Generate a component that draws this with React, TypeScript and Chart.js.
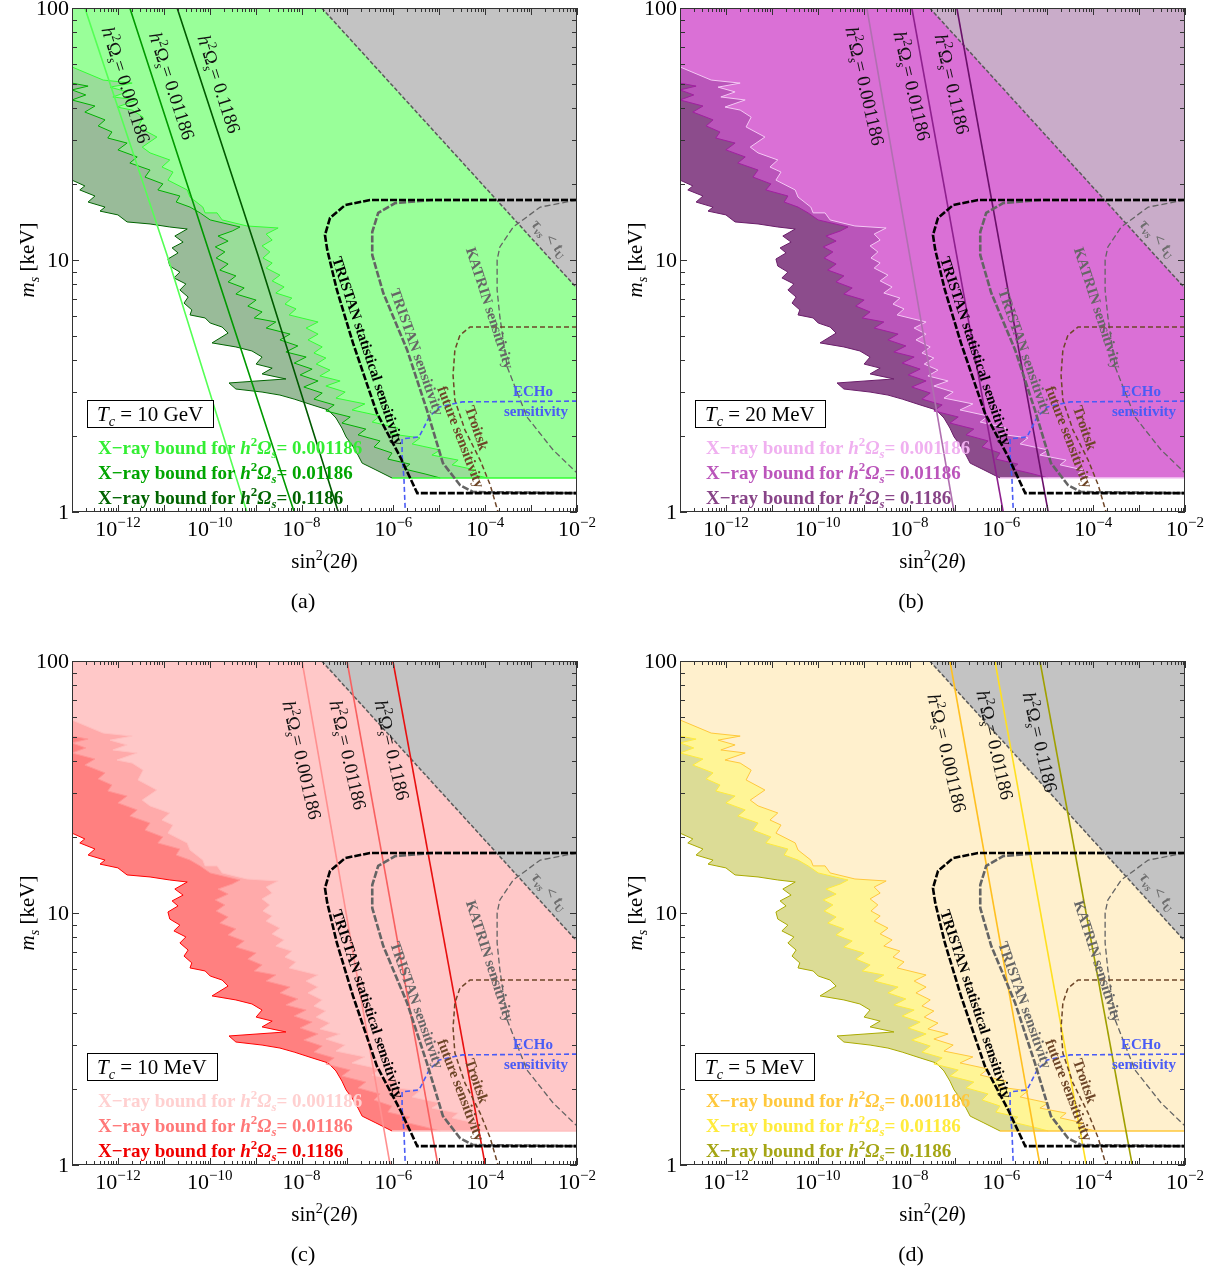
import React, { useEffect, useRef } from 'react';
import { Chart, registerables } from 'chart.js';

Chart.register(...registerables);

// Every curve point is [log10 sin²(2θ), log10 (m_s / keV)].
type LP = [number, number];

const SIN2_MIN = 1e-13;
const SIN2_MAX = 1e-2;
const MS_MIN = 1;
const MS_MAX = 100;
const X_LABEL_EXPONENTS = [-12, -10, -8, -6, -4, -2];
const Y_LABEL_VALUES = [1, 10, 100];
const OMEGA_LABELS = ['0.001186', '0.01186', '0.1186'];
const TC_LABELS = ['10 GeV', '20 MeV', '10 MeV', '5 MeV'];
const PANEL_KEYS = ['a', 'b', 'c', 'd'];

// X-ray bound boundaries (same in all four panels)
const XRAY_LOW: LP[] = [
  [-13.0, 1.766], [-12.32, 1.714], [-11.69, 1.702], [-12.17, 1.686], [-11.8, 1.667], [-12.11, 1.647],
  [-11.58, 1.635], [-12.02, 1.607], [-11.69, 1.595], [-11.45, 1.567], [-11.56, 1.528], [-11.15, 1.488],
  [-11.47, 1.448], [-11.3, 1.425], [-10.87, 1.397], [-11.04, 1.369], [-10.8, 1.349], [-10.91, 1.317],
  [-10.49, 1.278], [-10.43, 1.25], [-10.15, 1.21], [-10.1, 1.187], [-9.84, 1.187], [-9.73, 1.159],
  [-9.19, 1.135], [-8.51, 1.127], [-8.77, 1.103], [-8.64, 1.079], [-8.86, 1.056], [-8.69, 1.032],
  [-8.84, 1.008], [-8.64, 0.988], [-8.77, 0.968], [-8.47, 0.94], [-8.64, 0.917], [-8.38, 0.893],
  [-8.56, 0.869], [-8.21, 0.849], [-8.36, 0.825], [-8.12, 0.806], [-8.27, 0.782], [-7.64, 0.754],
  [-7.9, 0.73], [-7.64, 0.706], [-7.86, 0.683], [-7.55, 0.655], [-7.73, 0.631], [-7.47, 0.611],
  [-7.68, 0.587], [-7.38, 0.563], [-7.6, 0.54], [-7.16, 0.52], [-7.47, 0.5], [-7.05, 0.476],
  [-7.25, 0.452], [-6.62, 0.429], [-6.9, 0.405], [-6.29, 0.381], [-6.46, 0.357], [-5.9, 0.333],
  [-6.07, 0.31], [-5.42, 0.294], [-5.59, 0.27], [-4.98, 0.246], [-5.16, 0.226], [-4.59, 0.206],
  [-4.72, 0.187], [-4.22, 0.167], [-4.33, 0.151], [-3.94, 0.135],
];
const XRAY_MID: LP[] = [
  [-13.0, 1.702], [-12.65, 1.69], [-13.0, 1.675], [-12.7, 1.655], [-13.0, 1.635], [-12.5, 1.611],
  [-12.72, 1.587], [-12.28, 1.556], [-12.43, 1.532], [-12.13, 1.508], [-12.22, 1.484], [-11.8, 1.464],
  [-12.0, 1.437], [-11.58, 1.409], [-11.74, 1.385], [-11.3, 1.357], [-11.41, 1.329], [-11.02, 1.302],
  [-11.13, 1.278], [-10.65, 1.254], [-10.73, 1.23], [-10.43, 1.21], [-10.21, 1.187], [-9.99, 1.159],
  [-9.34, 1.131], [-9.51, 1.115], [-9.82, 1.095], [-9.6, 1.075], [-9.88, 1.052], [-9.67, 1.032],
  [-9.86, 1.008], [-9.6, 0.984], [-9.78, 0.96], [-9.43, 0.937], [-9.6, 0.913], [-9.25, 0.889],
  [-9.43, 0.865], [-8.99, 0.841], [-9.17, 0.817], [-8.86, 0.794], [-9.03, 0.77], [-8.56, 0.754],
  [-8.77, 0.73], [-8.25, 0.706], [-8.47, 0.683], [-8.08, 0.659], [-8.34, 0.635], [-7.9, 0.615],
  [-8.16, 0.591], [-7.77, 0.567], [-8.03, 0.544], [-7.64, 0.52], [-7.95, 0.496], [-7.55, 0.472],
  [-7.73, 0.448], [-7.29, 0.425], [-7.47, 0.401], [-6.94, 0.377], [-7.12, 0.353], [-6.6, 0.329],
  [-6.77, 0.306], [-6.29, 0.282], [-6.42, 0.258], [-6.03, 0.234], [-6.12, 0.21], [-5.64, 0.19],
  [-5.77, 0.171], [-5.31, 0.151], [-4.98, 0.135],
];
const XRAY_HIGH: LP[] = [
  [-13.0, 1.317], [-12.72, 1.294], [-12.83, 1.278], [-12.5, 1.254], [-12.65, 1.23], [-12.28, 1.21],
  [-12.39, 1.194], [-12.0, 1.179], [-11.8, 1.151], [-11.3, 1.143], [-10.87, 1.131], [-10.49, 1.123],
  [-10.76, 1.095], [-10.58, 1.071], [-10.82, 1.048], [-10.69, 1.028], [-10.91, 1.004], [-10.87, 0.976],
  [-10.65, 0.952], [-10.78, 0.929], [-10.52, 0.905], [-10.65, 0.881], [-10.47, 0.853], [-10.56, 0.829],
  [-10.39, 0.802], [-10.43, 0.782], [-10.1, 0.77], [-9.99, 0.75], [-9.73, 0.734], [-9.6, 0.71],
  [-9.95, 0.671], [-9.43, 0.655], [-9.08, 0.639], [-8.86, 0.615], [-8.99, 0.587], [-8.64, 0.571],
  [-8.86, 0.548], [-8.34, 0.528], [-9.58, 0.512], [-9.43, 0.488], [-8.86, 0.476], [-8.47, 0.464],
  [-8.16, 0.448], [-7.77, 0.425], [-7.42, 0.405], [-7.25, 0.373], [-7.12, 0.333], [-7.03, 0.298],
  [-6.9, 0.266], [-6.77, 0.226], [-6.68, 0.194], [-6.38, 0.167], [-6.03, 0.135],
];
const XRAY_FLOOR_MS = 1.365;

// lifetime shorter than age of the universe (upper-right corner)
const LIFETIME_EDGE: LP[] = [[-7.56, 2.0], [-2.0, 0.888]];

// experimental sensitivities
const TRISTAN_STAT: LP[] = [
  [-2, 1.238], [-6.51, 1.238], [-7.05, 1.218], [-7.38, 1.167], [-7.49, 1.099], [-7.44, 1.04],
  [-7.23, 0.881], [-6.88, 0.671], [-6.36, 0.393], [-5.85, 0.218], [-5.48, 0.075], [-2, 0.075],
];
const TRISTAN_SENS: LP[] = [
  [-2, 1.238], [-5.14, 1.238], [-5.96, 1.226], [-6.33, 1.187], [-6.46, 1.111], [-6.46, 1.02],
  [-6.22, 0.869], [-5.7, 0.643], [-5.27, 0.405], [-4.92, 0.194], [-4.55, 0.107], [-4.26, 0.079], [-2, 0.075],
];
const KATRIN_SENS: LP[] = [
  [-2, 1.238], [-2.8, 1.21], [-3.39, 1.131], [-3.68, 1.052], [-3.74, 1.0], [-3.74, 0.881],
  [-3.68, 0.774], [-3.52, 0.575], [-3.09, 0.377], [-2.52, 0.246], [-2, 0.155],
];
const TROITSK_SENS: LP[] = [
  [-2, 0.734], [-4.33, 0.734], [-4.55, 0.702], [-4.66, 0.643], [-4.7, 0.544], [-4.66, 0.444],
  [-4.44, 0.325], [-4.11, 0.206], [-3.89, 0.107], [-3.72, 0],
];
const ECHO_SENS: LP[] = [
  [-2, 0.44], [-4.5, 0.437], [-5.0, 0.417], [-5.22, 0.377], [-5.44, 0.298], [-5.81, 0.29],
  [-5.81, 0.226], [-5.77, 0.135], [-5.74, 0],
];

// relic abundance lines h²Ω_s = 0.001186 / 0.01186 / 0.1186
const RELIC_A_LOW: LP[] = [[-12.72, 2.0], [-10.93, 1.02], [-9.19, 0]];
const RELIC_A_MID: LP[] = [[-11.74, 2.0], [-9.99, 1.02], [-8.16, 0]];
const RELIC_A_HIGH: LP[] = [[-10.71, 2.0], [-8.95, 1.02], [-7.2, 0]];
const RELIC_B_LOW: LP[] = [[-8.93, 2.0], [-7.03, 0]];
const RELIC_B_MID: LP[] = [[-7.95, 2.0], [-5.96, 0]];
const RELIC_B_HIGH: LP[] = [[-6.97, 2.0], [-4.98, 0]];
const RELIC_C_LOW: LP[] = [[-7.99, 2.0], [-6.07, 0]];
const RELIC_C_MID: LP[] = [[-7.01, 2.0], [-5.03, 0]];
const RELIC_C_HIGH: LP[] = [[-6.01, 2.0], [-4.0, 0]];
const RELIC_D_LOW: LP[] = [[-7.12, 2.0], [-5.16, 0]];
const RELIC_D_MID: LP[] = [[-6.14, 2.0], [-4.15, 0]];
const RELIC_D_HIGH: LP[] = [[-5.16, 2.0], [-3.15, 0]];

const toXY = (pts: LP[]) => pts.map(([a, b]) => ({ x: Math.pow(10, a), y: Math.pow(10, b) }));

interface PanelCfg {
  idx: number;
  left: number;
  top: number;
  height: number;
  relic: LP[][];
  relicLabelPos: [number, number][];
  relicLabelRot: number;
  fills: string[];
  lines: string[];
  legend: string[];
  relicColors: string[];
  gray: string;
}

const PANELS: PanelCfg[] = [
  {
    idx: 0, left: 0, top: 0, height: 653,
    relic: [RELIC_A_LOW, RELIC_A_MID, RELIC_A_HIGH],
    relicLabelPos: [[126, 85], [172, 86], [219, 84]], relicLabelRot: 72,
    fills: ['#99FF99', '#99DD99', '#99BB99'],
    lines: ['#33FF33', '#00B000', '#006400'],
    legend: ['#33EE33', '#00A500', '#006400'],
    relicColors: ['#55FF55', '#009A00', '#005A00'],
    gray: '#C3C3C3',
  },
  {
    idx: 1, left: 608, top: 0, height: 653,
    relic: [RELIC_B_LOW, RELIC_B_MID, RELIC_B_HIGH],
    relicLabelPos: [[257, 86], [304, 86], [344, 84]], relicLabelRot: 77,
    fills: ['#DA70D6', '#BA55BA', '#8C4C8C'],
    lines: ['#F5C8F5', '#A020A0', '#6A1E6A'],
    legend: ['#F0B0F0', '#BB55BB', '#884488'],
    relicColors: ['#B070B0', '#8E208E', '#6A106A'],
    gray: '#C9ACC9',
  },
  {
    idx: 2, left: 0, top: 653, height: 619,
    relic: [RELIC_C_LOW, RELIC_C_MID, RELIC_C_HIGH],
    relicLabelPos: [[302, 107], [348, 102], [392, 97]], relicLabelRot: 77,
    fills: ['#FFC8C8', '#FFAAAA', '#FF8080'],
    lines: ['#FFC0C0', '#FF9696', '#FF0000'],
    legend: ['#FFD0D0', '#FF7878', '#F00000'],
    relicColors: ['#FF9090', '#F86060', '#E81010'],
    gray: '#C3C3C3',
  },
  {
    idx: 3, left: 608, top: 653, height: 619,
    relic: [RELIC_D_LOW, RELIC_D_MID, RELIC_D_HIGH],
    relicLabelPos: [[339, 100], [387, 92], [432, 89]], relicLabelRot: 77,
    fills: ['#FFF0CD', '#FFF596', '#DCDC96'],
    lines: ['#FFC83C', '#FFEB3C', '#AAAA00'],
    legend: ['#FFC83C', '#FFEB3C', '#A5A514'],
    relicColors: ['#FFC020', '#FFE020', '#A0A000'],
    gray: '#C3C3C3',
  },
];

const CANVAS_W = 611;
const FAMILY = '"Liberation Serif", "DejaVu Serif", "Times New Roman", serif';

type Seg = { t: string; i?: boolean; b?: boolean; sup?: boolean; sub?: boolean };

function segFont(s: Seg, size: number) {
  const sz = s.sup || s.sub ? size * 0.68 : size;
  return `${s.i ? 'italic ' : ''}${s.b ? 'bold ' : ''}${sz.toFixed(1)}px ${FAMILY}`;
}
function richWidth(ctx: CanvasRenderingContext2D, segs: Seg[], size: number) {
  let w = 0;
  for (const s of segs) {
    ctx.font = segFont(s, size);
    w += ctx.measureText(s.t).width;
  }
  return w;
}
function drawRich(
  ctx: CanvasRenderingContext2D, segs: Seg[], x: number, y: number, size: number, color: string,
  opt: { align?: 'left' | 'center' | 'right'; rot?: number; vcenter?: boolean } = {}
) {
  ctx.save();
  ctx.translate(x, y);
  if (opt.rot) ctx.rotate((opt.rot * Math.PI) / 180);
  const w = richWidth(ctx, segs, size);
  let cx = opt.align === 'center' ? -w / 2 : opt.align === 'right' ? -w : 0;
  const base = opt.vcenter ? size * 0.33 : 0;
  ctx.fillStyle = color;
  ctx.textAlign = 'left';
  ctx.textBaseline = 'alphabetic';
  for (const s of segs) {
    ctx.font = segFont(s, size);
    const dy = s.sup ? -size * 0.4 : s.sub ? size * 0.22 : 0;
    ctx.fillText(s.t, cx, base + dy);
    cx += ctx.measureText(s.t).width;
  }
  ctx.restore();
}

function buildDatasets(p: PanelCfg) {
  const ds: any[] = [];
  const region = (b: LP[]) => [
    { x: SIN2_MIN, y: MS_MAX }, ...toXY(b), { x: SIN2_MAX, y: XRAY_FLOOR_MS }, { x: SIN2_MAX, y: MS_MAX },
  ];
  const shape = (data: any[], color: string) => ({
    data, backgroundColor: color, borderColor: 'rgba(0,0,0,0)', borderWidth: 0, fill: 'shape', pointRadius: 0,
  });
  const curve = (data: any[], color: string, width: number, dash: number[] = []) => ({
    data, borderColor: color, borderWidth: width, borderDash: dash, fill: false, pointRadius: 0,
  });
  const bounds = [XRAY_LOW, XRAY_MID, XRAY_HIGH];
  for (let i = 2; i >= 0; i--) ds.push(shape(region(bounds[i]), p.fills[i]));
  const edge = toXY(LIFETIME_EDGE);
  ds.push(shape([edge[0], { x: SIN2_MAX, y: MS_MAX }, edge[1]], p.gray));
  for (let i = 2; i >= 0; i--) ds.push(curve(toXY(bounds[i]), p.lines[i], 1));
  const last = XRAY_HIGH[XRAY_HIGH.length - 1];
  ds.push(curve([{ x: Math.pow(10, last[0]), y: XRAY_FLOOR_MS }, { x: SIN2_MAX, y: XRAY_FLOOR_MS }], p.lines[0], 1.5));
  ds.push(curve(edge, '#5A5A5A', 1.5, [4, 2]));
  p.relic.forEach((r, i) => ds.push(curve(toXY(r), p.relicColors[i], 1.6)));
  ds.push(curve(toXY(KATRIN_SENS), '#646464', 1.3, [6, 3]));
  ds.push(curve(toXY(TROITSK_SENS), '#6E4628', 1.5, [5, 3]));
  ds.push(curve(toXY(ECHO_SENS), '#4A5CF5', 1.6, [5, 3]));
  ds.push(curve(toXY(TRISTAN_SENS), '#646464', 2.6, [7, 2]));
  ds.push(curve(toXY(TRISTAN_STAT), '#000000', 2.6, [7, 2]));
  const n = ds.length;
  ds.forEach((d, i) => (d.order = n - i));
  return ds;
}

function decorPlugin(p: PanelCfg) {
  return {
    id: 'decor' + p.idx,
    afterDraw(chart: any) {
      const ctx: CanvasRenderingContext2D = chart.ctx;
      const ca = chart.chartArea;
      const xs = chart.scales.x;
      const ys = chart.scales.y;
      ctx.save();
      ctx.strokeStyle = '#333';
      ctx.lineWidth = 1;
      const seg = (x1: number, y1: number, x2: number, y2: number) => {
        ctx.beginPath();
        ctx.moveTo(x1, y1);
        ctx.lineTo(x2, y2);
        ctx.stroke();
      };
      for (let e = -13; e <= -2; e++) {
        for (let k = 1; k <= 9; k++) {
          const v = k * Math.pow(10, e);
          if (v > SIN2_MAX * 1.0001) break;
          const px = Math.round(xs.getPixelForValue(v)) + 0.5;
          const len = k === 1 ? 7 : 4;
          seg(px, ca.bottom, px, ca.bottom - len);
          seg(px, ca.top, px, ca.top + len);
        }
      }
      for (let e = 0; e <= 2; e++) {
        for (let k = 1; k <= 9; k++) {
          const v = k * Math.pow(10, e);
          if (v > MS_MAX * 1.0001) break;
          const py = Math.round(ys.getPixelForValue(v)) + 0.5;
          const len = k === 1 ? 7 : 5;
          seg(ca.left, py, ca.left + len, py);
          seg(ca.right, py, ca.right - len, py);
        }
      }
      ctx.strokeStyle = '#333';
      ctx.strokeRect(ca.left + 0.5, ca.top + 0.5, ca.right - ca.left - 1, ca.bottom - ca.top - 1);

      for (const e of X_LABEL_EXPONENTS) {
        const px = xs.getPixelForValue(Math.pow(10, e));
        drawRich(ctx, [{ t: '10' }, { t: '\u2212' + String(-e), sup: true }], px, ca.bottom + 24, 22, '#000', { align: 'center' });
      }
      for (const v of Y_LABEL_VALUES) {
        const py = ys.getPixelForValue(v);
        drawRich(ctx, [{ t: String(v) }], ca.left - 3, py + 7, 22, '#000', { align: 'right' });
      }
      drawRich(ctx, [{ t: 'sin' }, { t: '2', sup: true }, { t: '(2' }, { t: '\u03B8', i: true }, { t: ')' }],
        (ca.left + ca.right) / 2, ca.bottom + 56, 21, '#000', { align: 'center' });
      drawRich(ctx, [{ t: 'm', i: true }, { t: 's', i: true, sub: true }, { t: ' [keV]' }],
        27, (ca.top + ca.bottom) / 2, 21, '#000', { align: 'center', rot: -90, vcenter: true });
      drawRich(ctx, [{ t: '(' + PANEL_KEYS[p.idx] + ')' }], 303, ca.bottom + 96, 22, '#000', { align: 'center' });

      drawRich(ctx, [{ t: 'TRISTAN statistical sensitivity', b: true }], 368, 351, 15, '#000', { align: 'center', rot: 71.5, vcenter: true });
      drawRich(ctx, [{ t: 'TRISTAN sensitivity', b: true }], 417, 352, 15, '#666', { align: 'center', rot: 70.4, vcenter: true });
      drawRich(ctx, [{ t: 'KATRIN sensitivity', b: true }], 490, 308, 15, '#666', { align: 'center', rot: 72, vcenter: true });
      drawRich(ctx, [{ t: 'Troitsk', b: true }], 477, 428, 15, '#6E4628', { align: 'center', rot: 71, vcenter: true });
      drawRich(ctx, [{ t: 'future sensitivity', b: true }], 461, 437, 15, '#6E4628', { align: 'center', rot: 69, vcenter: true });
      drawRich(ctx, [{ t: 'ECHo', b: true }], 533, 391, 15, '#4A5CF5', { align: 'center', vcenter: true });
      drawRich(ctx, [{ t: 'sensitivity', b: true }], 536, 411, 15, '#4A5CF5', { align: 'center', vcenter: true });
      drawRich(ctx, [
        { t: '\u03C4', i: true, b: true }, { t: '\u03BDs', i: true, sub: true, b: true }, { t: ' < ', b: true },
        { t: 't', i: true, b: true }, { t: 'U', sub: true, b: true },
      ], 550, 238, 16, '#6E6E6E', { align: 'center', rot: 47.6, vcenter: true });

      p.relicLabelPos.forEach(([lx, ly], i) => {
        drawRich(ctx, [
          { t: 'h', i: true }, { t: '2', sup: true }, { t: '\u03A9' }, { t: 's', i: true, sub: true }, { t: '= ' + OMEGA_LABELS[i] },
        ], lx, ly, 19, '#111', { align: 'center', rot: p.relicLabelRot, vcenter: true });
      });

      const tcSegs: Seg[] = [{ t: 'T', i: true }, { t: 'c', i: true, sub: true }, { t: ' = ' + TC_LABELS[p.idx] }];
      const tw = richWidth(ctx, tcSegs, 21);
      const bx = 87, by = 400, bh = 27, bw = Math.round(tw + 20);
      ctx.fillStyle = '#fff';
      ctx.fillRect(bx, by, bw, bh);
      ctx.strokeStyle = '#000';
      ctx.lineWidth = 1;
      ctx.strokeRect(bx + 0.5, by + 0.5, bw, bh);
      drawRich(ctx, tcSegs, bx + 10, by + bh / 2 + 1, 21, '#000', { align: 'left', vcenter: true });

      for (let i = 0; i < 3; i++) {
        drawRich(ctx, [
          { t: 'X\u2212ray bound for ', b: true }, { t: 'h', b: true, i: true }, { t: '2', b: true, sup: true },
          { t: '\u03A9', b: true, i: true }, { t: 's', b: true, i: true, sub: true }, { t: '= ' + OMEGA_LABELS[i], b: true },
        ], 98, 454 + 25 * i, 19, p.legend[i], { align: 'left' });
      }
      ctx.restore();
    },
  };
}

function Panel({ cfg }: { cfg: PanelCfg }) {
  const ref = useRef<HTMLCanvasElement>(null);
  useEffect(() => {
    const canvas = ref.current;
    if (!canvas) return;
    const chart = new Chart(canvas, {
      type: 'line',
      data: { datasets: buildDatasets(cfg) as any },
      options: {
        responsive: false,
        animation: false,
        events: [],
        layout: { padding: { left: 72, top: 8, right: CANVAS_W - 577, bottom: cfg.height - 512 } },
        scales: {
          x: { type: 'logarithmic', min: SIN2_MIN, max: SIN2_MAX, display: false },
          y: { type: 'logarithmic', min: MS_MIN, max: MS_MAX, display: false },
        },
        elements: { point: { radius: 0 }, line: { tension: 0 } },
        plugins: { legend: { display: false }, tooltip: { enabled: false } },
      } as any,
      plugins: [decorPlugin(cfg) as any],
    });
    return () => chart.destroy();
  }, [cfg]);
  return (
    <canvas
      ref={ref}
      width={CANVAS_W}
      height={cfg.height}
      style={{ position: 'absolute', left: cfg.left, top: cfg.top, width: CANVAS_W, height: cfg.height }}
    />
  );
}

export default function App() {
  return (
    <div style={{ position: 'absolute', left: 0, top: 0, width: 1222, height: 1272, background: '#fff' }}>
      {PANELS.map((p) => (
        <Panel key={p.idx} cfg={p} />
      ))}
    </div>
  );
}
